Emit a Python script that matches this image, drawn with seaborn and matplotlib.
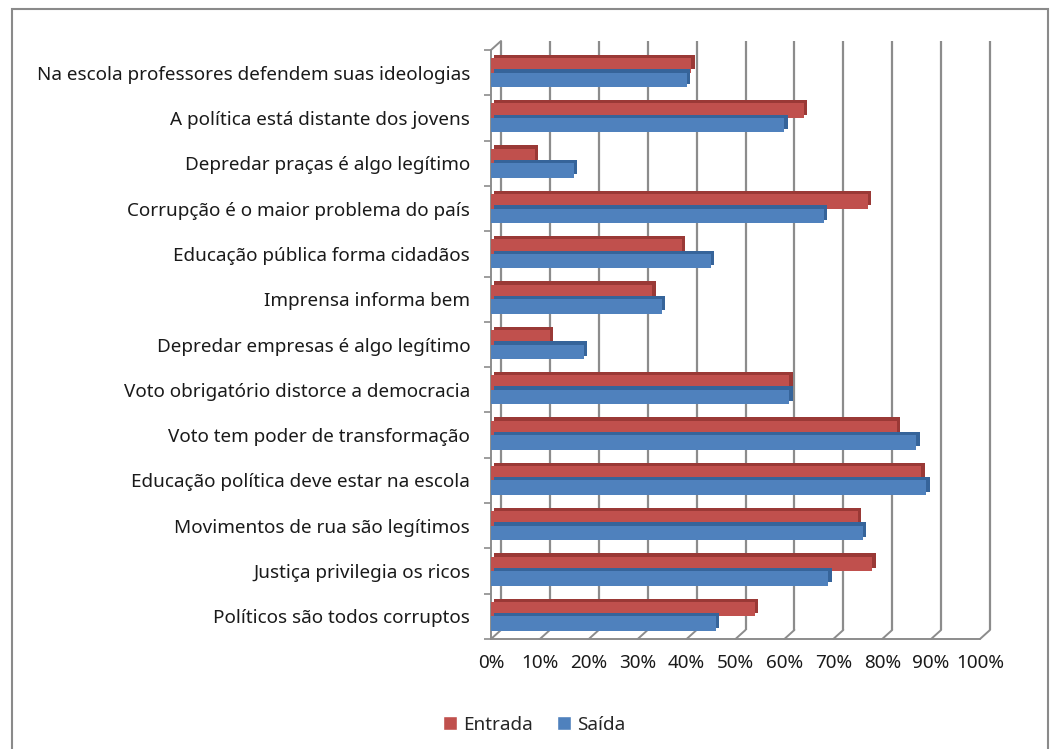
import matplotlib
matplotlib.use("Agg")
import matplotlib.pyplot as plt
import matplotlib.patheffects as pe
from matplotlib.patches import Rectangle, Patch
import numpy as np
import pandas as pd
import seaborn as sns

# Survey statements (top to bottom) and share of agreement, in percent
itens = [
    "Na escola professores defendem suas ideologias",
    "A política está distante dos jovens",
    "Depredar praças é algo legítimo",
    "Corrupção é o maior problema do país",
    "Educação pública forma cidadãos",
    "Imprensa informa bem",
    "Depredar empresas é algo legítimo",
    "Voto obrigatório distorce a democracia",
    "Voto tem poder de transformação",
    "Educação política deve estar na escola",
    "Movimentos de rua são legítimos",
    "Justiça privilegia os ricos",
    "Políticos são todos corruptos",
]
entrada = [41, 64, 9, 77, 39, 33, 12, 61, 83, 88, 75, 78, 54]
saida = [40, 60, 17, 68, 45, 35, 19, 61, 87, 89, 76, 69, 46]
series = ["Entrada", "Saída"]
ticks_pct = list(range(0, 101, 10))

RED = "#C0504D"
BLUE = "#4F81BD"
RED_DARK = "#9A3936"
BLUE_DARK = "#36649A"
GRID = "#8C8C8C"
FS = 13.6

df = pd.DataFrame({
    "item": itens * 2,
    "valor": entrada + saida,
    "serie": [series[0]] * len(itens) + [series[1]] * len(itens),
})

sns.set_style("white")
plt.rcParams["font.family"] = ["Noto Sans", "DejaVu Sans"]

fig = plt.figure(figsize=(10.51, 7.49), dpi=100)
fig.patch.set_facecolor("white")
ax = fig.add_axes([491 / 1051, 1 - 639 / 749, 489 / 1051, 589 / 749])

sns.barplot(data=df, y="item", x="valor", hue="serie", orient="h",
            palette=[RED, BLUE], width=0.64, ax=ax, legend=False,
            order=itens, hue_order=series, zorder=3, saturation=1)

ax.set_xlim(0, 100)
ax.set_ylim(len(itens) - 0.5, -0.5)

# extruded look on each bar
n = len(itens)
for i, bar in enumerate(ax.patches[:2 * n]):
    dark = RED_DARK if i < n else BLUE_DARK
    bar.set_linewidth(0)
    bar.set_path_effects([
        pe.SimplePatchShadow(offset=(2.4, 2.4), shadow_rgbFace=dark, alpha=1.0),
        pe.Normal(),
    ])

# depth of the box in data units
DX = 10 / 4.89
DY = 9 / 45.25
top, bot = -0.5, n - 0.5

# back wall gridlines
ax.vlines([t + DX for t in ticks_pct], top - DY, bot - DY, colors=GRID,
          linewidth=1.6, zorder=1, clip_on=False)
# floor: front edge and slanted depth lines
ax.plot([0, 100], [bot, bot], color=GRID, lw=1.4, clip_on=False, zorder=1)
for t in ticks_pct:
    ax.plot([t, t + DX], [bot, bot - DY], color=GRID, lw=1.4,
            clip_on=False, zorder=1)
# left wall front edge and its top corner
ax.plot([0, 0], [top, bot], color=GRID, lw=1.4, clip_on=False, zorder=1)
ax.plot([0, DX], [top, top - DY], color=GRID, lw=1.4, clip_on=False, zorder=1)

for s in ax.spines.values():
    s.set_visible(False)

ax.set_xticks(ticks_pct)
ax.set_xticklabels([f"{t}%" for t in ticks_pct])
ax.set_yticks(range(n))
ax.set_yticklabels(itens)
ax.set_yticks(np.arange(n + 1) - 0.5, minor=True)
ax.tick_params(axis="y", which="major", length=0, pad=15, labelsize=FS,
               labelcolor="#1a1a1a")
ax.tick_params(axis="y", which="minor", length=5, width=1.2, color=GRID,
               left=True)
ax.tick_params(axis="x", length=0, pad=11, labelsize=FS, labelcolor="#1a1a1a")
ax.set_xlabel("")
ax.set_ylabel("")
ax.grid(False)

handles = [Patch(facecolor=RED, label=series[0]),
           Patch(facecolor=BLUE, label=series[1])]
fig.legend(handles=handles, loc="center", ncol=2,
           bbox_to_anchor=(534 / 1051, 1 - 725 / 749), frameon=False,
           fontsize=FS, handlelength=0.75, handleheight=0.75,
           handletextpad=0.3, columnspacing=1.3)

# outer chart frame
fig.patches.append(Rectangle((12 / 1051, -0.02), 1036 / 1051, 1.02 - 9 / 749,
                             transform=fig.transFigure, fill=False,
                             edgecolor="#8a8a8a", linewidth=1.5))

fig.savefig("out.png", dpi=100, facecolor="white")
